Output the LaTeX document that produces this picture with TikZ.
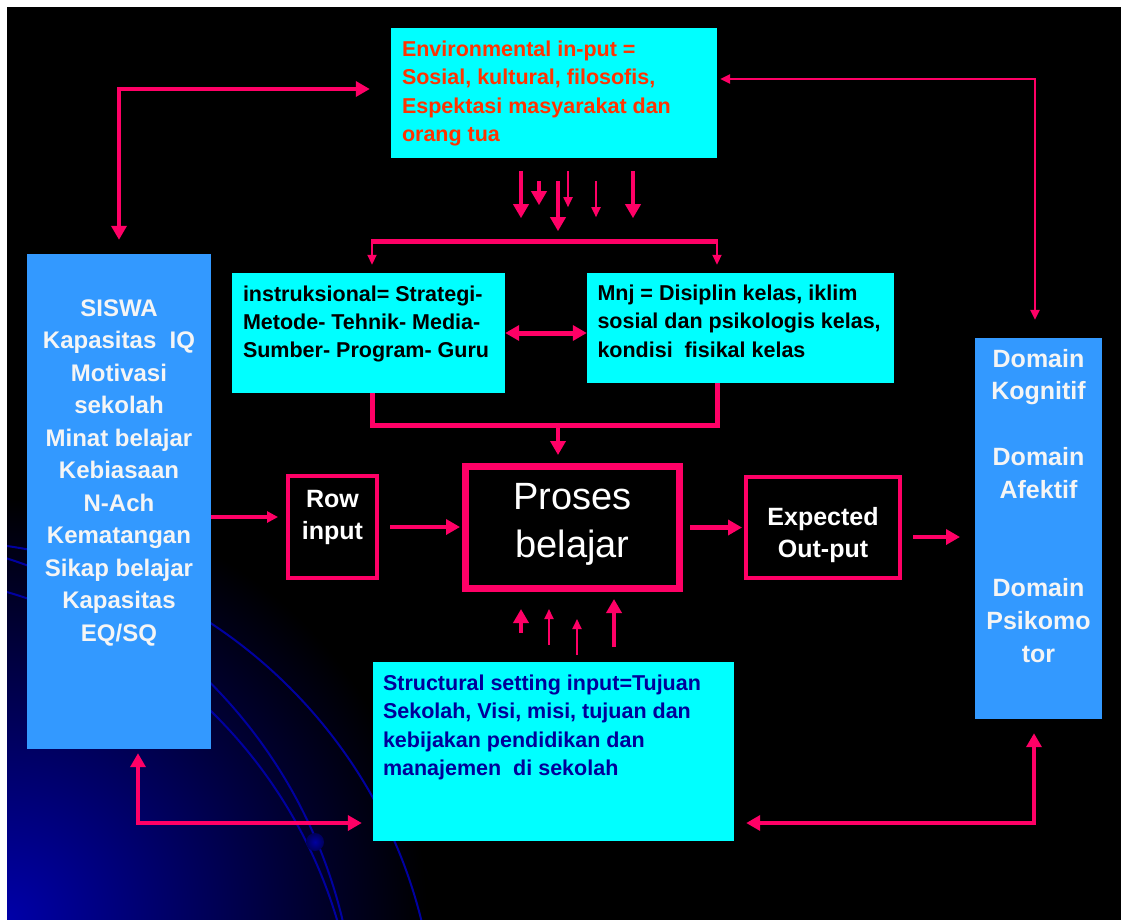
\documentclass[tikz,border=0pt]{standalone}
\usepackage{fontspec}
\setmainfont{Liberation Sans}
\usetikzlibrary{arrows.meta}
\definecolor{arrpink}{HTML}{FF0066}
\definecolor{boxcyan}{HTML}{00FFFF}
\definecolor{boxblue}{HTML}{3399FF}
\definecolor{envred}{HTML}{FF3300}
\definecolor{structblue}{HTML}{000099}
\definecolor{curveblue}{HTML}{0000A0}
\definecolor{glowblue}{HTML}{0000A8}
\definecolor{balldark}{HTML}{00005A}
\newcommand{\boxtext}[3]{\parbox[t][#2][t]{#1}{#3}}
\tikzset{
	bigtip/.tip={Triangle[length=14pt,width=15pt]},
	smalltip/.tip={Triangle[length=10pt,width=9pt]},
	pinkline/.style={draw=arrpink, line width=4.5pt},
	thickarr/.style={pinkline, -bigtip},
	thinarr/.style={draw=arrpink, line width=1.8pt, -smalltip},
	cyanbox/.style={fill=boxcyan, font=\fontsize{21.5pt}{28.3pt}\selectfont\bfseries},
	bluebox/.style={fill=boxblue, text=gray!8},
	framebox/.style={draw=arrpink, fill=black, text=white}
}
\begin{document}
\begin{tikzpicture}[x=1pt, y=-1pt]
		\fill[white] (0,0) rectangle (1121,919);
		\useasboundingbox (0,0) rectangle (1121,919);
		\fill[black] (7,7) rectangle (1130,930);
		\begin{scope}
			\clip (7,7) rectangle (1130,930);
			\shade[inner color=glowblue, outer color=black] (7,919) circle (420pt);
			\draw[curveblue, line width=2pt] (-64,1041) circle (500pt);
			\draw[curveblue, line width=2pt] (-145,1036) circle (501pt);
			\draw[curveblue, line width=2pt] (-128,1058) circle (485pt);
		\end{scope}
		\shade[inner color=curveblue, outer color=balldark] (315,842) circle (9pt);
		
		\node[cyanbox, text=envred, inner xsep=11pt, inner ysep=13pt] (env) at (554,93) {\boxtext{304pt}{104pt}{\raggedright Environmental in-put =\\Sosial, kultural, filosofis,\\Espektasi masyarakat dan\\orang tua}};
		\node[cyanbox, inner xsep=11pt, inner ysep=12.5pt] (instr) at (368.5,333) {\boxtext{251pt}{95pt}{\raggedright instruksional= Strategi-\\Metode- Tehnik- Media-\\Sumber- Program- Guru}};
		\node[cyanbox, inner xsep=10.5pt, inner ysep=12pt] (mnj) at (740.5,328) {\boxtext{286pt}{86pt}{\raggedright Mnj = Disiplin kelas, iklim\\sosial dan psikologis kelas,\\kondisi\ \ fisikal kelas}};
		\node[cyanbox, text=structblue, inner xsep=10pt, inner ysep=13pt] (struct) at (553.5,751.5) {\boxtext{341pt}{153pt}{\raggedright Structural setting input=Tujuan\\Sekolah, Visi, misi, tujuan dan\\kebijakan pendidikan dan\\manajemen\ \ di sekolah}};
		\node[bluebox, inner xsep=5pt, inner ysep=45.5pt, font=\fontsize{24pt}{32.5pt}\selectfont\bfseries] (siswa) at (119,501.5) {\boxtext{174pt}{404pt}{\centering SISWA\\Kapasitas\ \ IQ\\Motivasi\\sekolah\\Minat belajar\\Kebiasaan\\N-Ach\\Kematangan\\Sikap belajar\\Kapasitas\\EQ/SQ}};
		\node[bluebox, inner xsep=5pt, inner ysep=11pt, font=\fontsize{25pt}{32.8pt}\selectfont\bfseries] (domain) at (1038.5,528.5) {\boxtext{117pt}{359pt}{\centering Domain\\Kognitif\\~\\Domain\\Afektif\\~\\~\\Domain\\Psikomo\\tor}};
		\node[framebox, line width=4pt, inner xsep=2pt, inner ysep=14pt, font=\fontsize{25pt}{32.3pt}\selectfont\bfseries] (rowin) at (332.5,527) {\boxtext{85pt}{74pt}{\centering Row\\input}};
		\node[framebox, line width=7pt, inner xsep=5pt, inner ysep=16.8pt, font=\fontsize{38pt}{48.3pt}\selectfont] (proses) at (572.5,527.5) {\boxtext{204pt}{88.4pt}{\centering Proses\\belajar}};
		\node[framebox, line width=4pt, inner xsep=4pt, inner ysep=30pt, font=\fontsize{25pt}{32.7pt}\selectfont\bfseries] (expect) at (823,527.5) {\boxtext{146pt}{41pt}{\centering Expected\\Out-put}};
		
		\draw[pinkline, line width=4pt, bigtip-bigtip] ([yshift=14pt]siswa.north) |- ([xshift=-21pt,yshift=4pt]env.west);
		\draw[pinkline, line width=2.7pt, smalltip-smalltip] ([xshift=3pt,yshift=14pt]env.east) -| ([xshift=-3.5pt,yshift=18pt]domain.north);
		\draw[pinkline, line width=4pt, bigtip-bigtip] ([xshift=19pt,yshift=-4pt]siswa.south) |- ([xshift=-11pt,yshift=-71.5pt]struct.west);
		\draw[pinkline, line width=4pt, bigtip-bigtip] ([xshift=12pt,yshift=-71.5pt]struct.east) -| ([xshift=-4.5pt,yshift=-14pt]domain.south);
		
		\draw[thickarr] (env.south) ++(-33,13) -- ++(0,47);
		\draw[thickarr] (env.south) ++(-15,23) -- ++(0,24);
		\draw[thickarr] (env.south) ++(4,23) -- ++(0,50);
		\draw[thinarr] (env.south) ++(14,13) -- ++(0,36);
		\draw[thinarr] (env.south) ++(42,23) -- ++(0,36);
		\draw[thickarr] (env.south) ++(79,13) -- ++(0,47);
		
		\coordinate (barL) at ([xshift=3.5pt,yshift=31pt]instr.north);
		\coordinate (barR) at ([xshift=-23.5pt,yshift=31pt]mnj.north);
		\draw[pinkline, line width=5pt] ([xshift=-1pt]barL) -- ([xshift=1pt]barR);
		\draw[thinarr] (barL) -- ++(0,23);
		\draw[thinarr] (barR) -- ++(0,23);
		\draw[pinkline, line width=5pt, bigtip-bigtip] (instr.east) -- (instr.east -| mnj.west);
		\draw[pinkline, line width=5pt] ([xshift=3.5pt]instr.south) -- ++(0,32) -| ([xshift=-23.5pt]mnj.south);
		\draw[thickarr] ([xshift=-14.5pt,yshift=38pt]proses.north) -- ([xshift=-14.5pt,yshift=8pt]proses.north);
		
		\draw[pinkline, line width=4pt, -{Triangle[length=11pt,width=11pt]}] ([yshift=10pt]rowin.west -| siswa.east) -- ([xshift=-8pt,yshift=10pt]rowin.west);
		\draw[thickarr] ([xshift=11pt]rowin.east) -- ([xshift=-2pt]rowin.east -| proses.west);
		\draw[thickarr] ([xshift=7pt]proses.east) -- ([xshift=-2pt]expect.west);
		\draw[thickarr] ([xshift=11pt,yshift=-9.5pt]expect.east) -- ++(47,0);
		
		\draw[thickarr] (proses.south) ++(-51.5,41) -- ++(0,-24);
		\draw[thinarr] (proses.south) ++(-23.5,53) -- ++(0,-36);
		\draw[thinarr] (proses.south) ++(4.5,63) -- ++(0,-36);
		\draw[thickarr] (proses.south) ++(41.5,55) -- ++(0,-48);
\end{tikzpicture}
\end{document}
